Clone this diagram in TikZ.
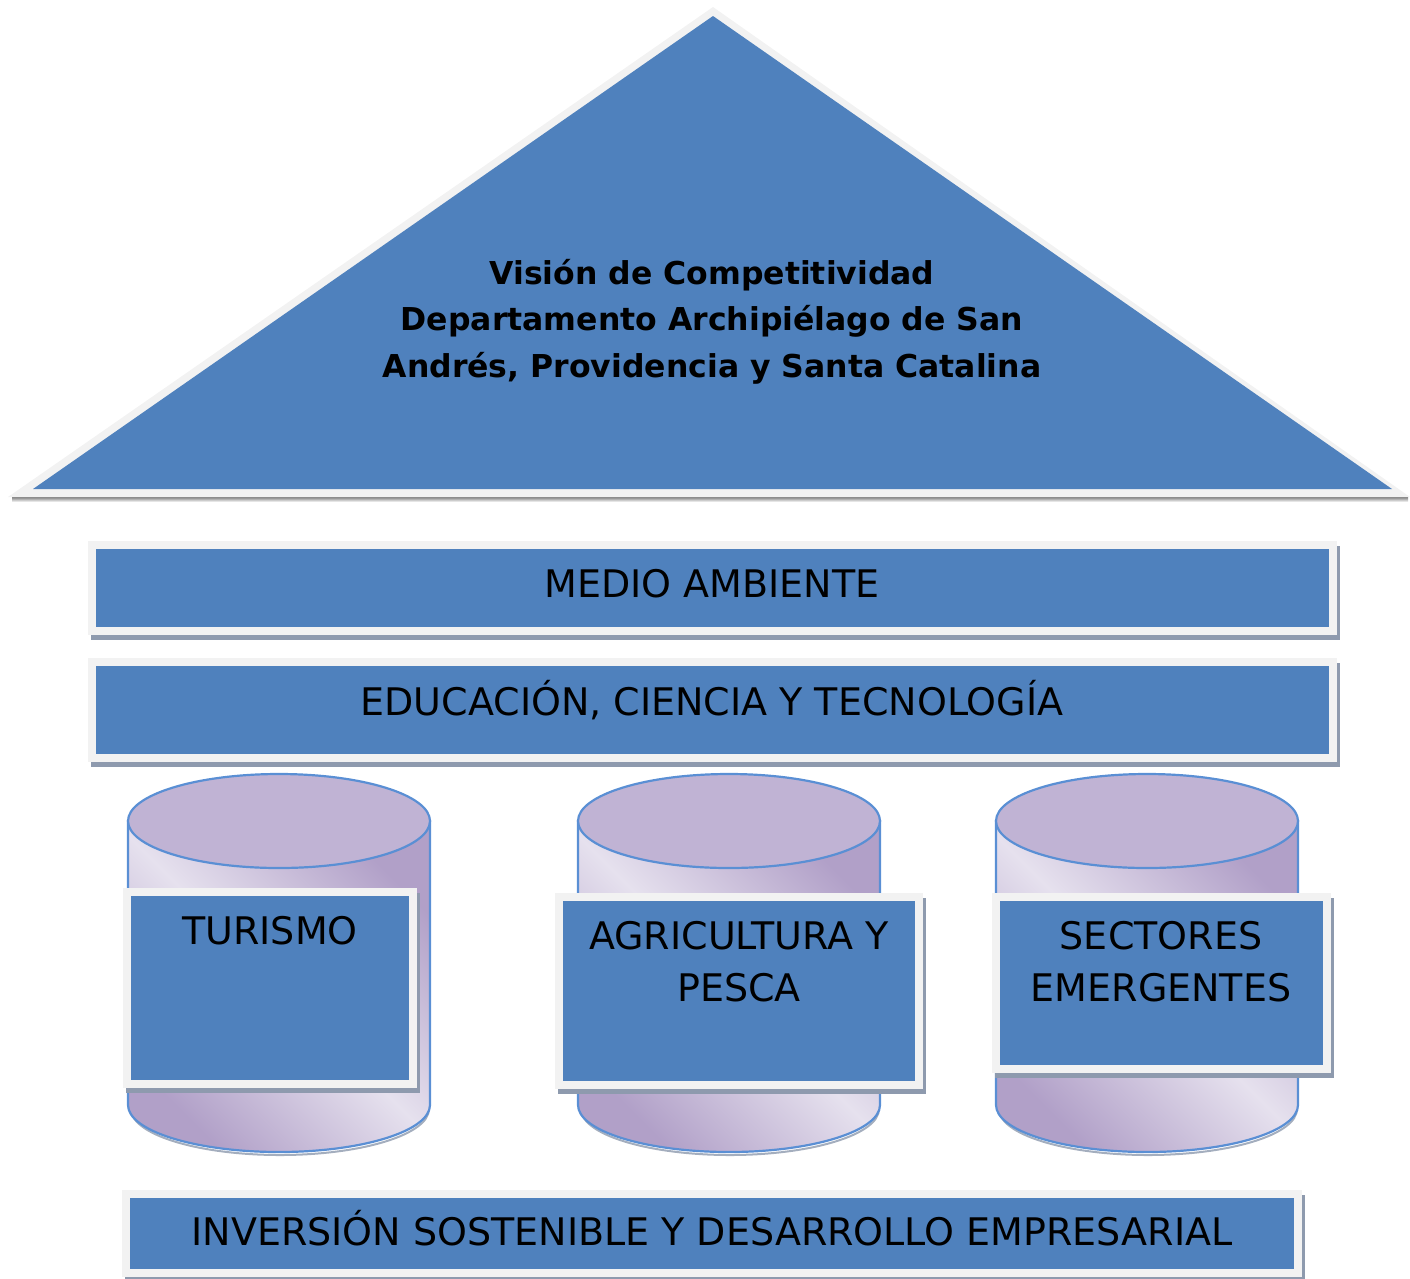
\documentclass[tikz,border=0pt]{standalone}
\usepackage{fontspec}
\setmainfont{DejaVu Sans}
\usetikzlibrary{shadows}
\definecolor{boxblue}{HTML}{4F81BD}
\definecolor{frame}{HTML}{F2F2F2}
\definecolor{shade}{HTML}{8E9AAE}
\definecolor{pillarline}{HTML}{5A8FD4}
\definecolor{pillartop}{HTML}{C0B3D4}
\definecolor{pillardark}{HTML}{B1A0C8}
\definecolor{pillarlight}{HTML}{E6E1EE}

\begin{document}
\begin{tikzpicture}[x=1pt, y=-1pt,
  panel/.style={fill=boxblue, draw=frame, line width=8pt, inner sep=0pt,
    drop shadow={shadow xshift=3pt, shadow yshift=-5pt, fill=shade, draw=shade, opacity=1}},
  txt/.style={font=\fontsize{38}{52}\selectfont, align=center, anchor=base, inner sep=0pt}]
\useasboundingbox (0,0) rectangle (1410,1278);
% roof
\fill [shade] (12,497) rectangle (1408,502);
\fill [frame] (8,497) -- (713,7) -- (1410,497) -- cycle;
\fill [boxblue] (33,489) -- (713,16) -- (1392,489) -- cycle;
\node [font=\bfseries\fontsize{31.5}{46.5}\selectfont, align=center, anchor=base, inner sep=0pt] (vision) at (712,377) {Visión de Competitividad\\Departamento Archipiélago de San\\Andrés, Providencia y Santa Catalina};
% beams
\node [panel, minimum width=1241, minimum height=86] (medio) at (712.5,588) {};
\node [txt] (medioText) at (712,597) {MEDIO AMBIENTE};
\node [panel, minimum width=1241, minimum height=96] (educacion) at (712.5,710) {};
\node [txt] (educacionText) at (712,715) {EDUCACIÓN, CIENCIA Y TECNOLOGÍA};
% pillars
\foreach \cx in {279,729,1147} {
  \draw [shade!80, line width=2pt] (\cx-148,1109) arc (180:0:149 and 46);
  \draw [pillarline, line width=2.2pt, left color=pillardark, right color=pillardark, middle color=pillarlight, shading angle=-45]
    (\cx-151,821) -- (\cx-151,1105) arc (180:0:151 and 47) -- (\cx+151,821) -- cycle;
  \draw [pillarline, line width=2.2pt, fill=pillartop] (\cx,821) ellipse (151 and 47);
}
\node [panel, minimum width=286, minimum height=192] (turismo) at (270,988) {};
\node [txt] (turismoText) at (270,944) {TURISMO};
\node [panel, minimum width=360, minimum height=188] (agricultura) at (739,991) {};
\node [txt] (agriculturaText) at (739,1001) {AGRICULTURA Y\\PESCA};
\node [panel, minimum width=331, minimum height=172] (sectores) at (1161.5,983) {};
\node [txt] (sectoresText) at (1161,1001) {SECTORES\\EMERGENTES};
% base
\node [panel, minimum width=1172, minimum height=79] (inversion) at (712,1233.5) {};
\node [txt] (inversionText) at (712,1245) {INVERSIÓN SOSTENIBLE Y DESARROLLO EMPRESARIAL};
\end{tikzpicture}
\end{document}
